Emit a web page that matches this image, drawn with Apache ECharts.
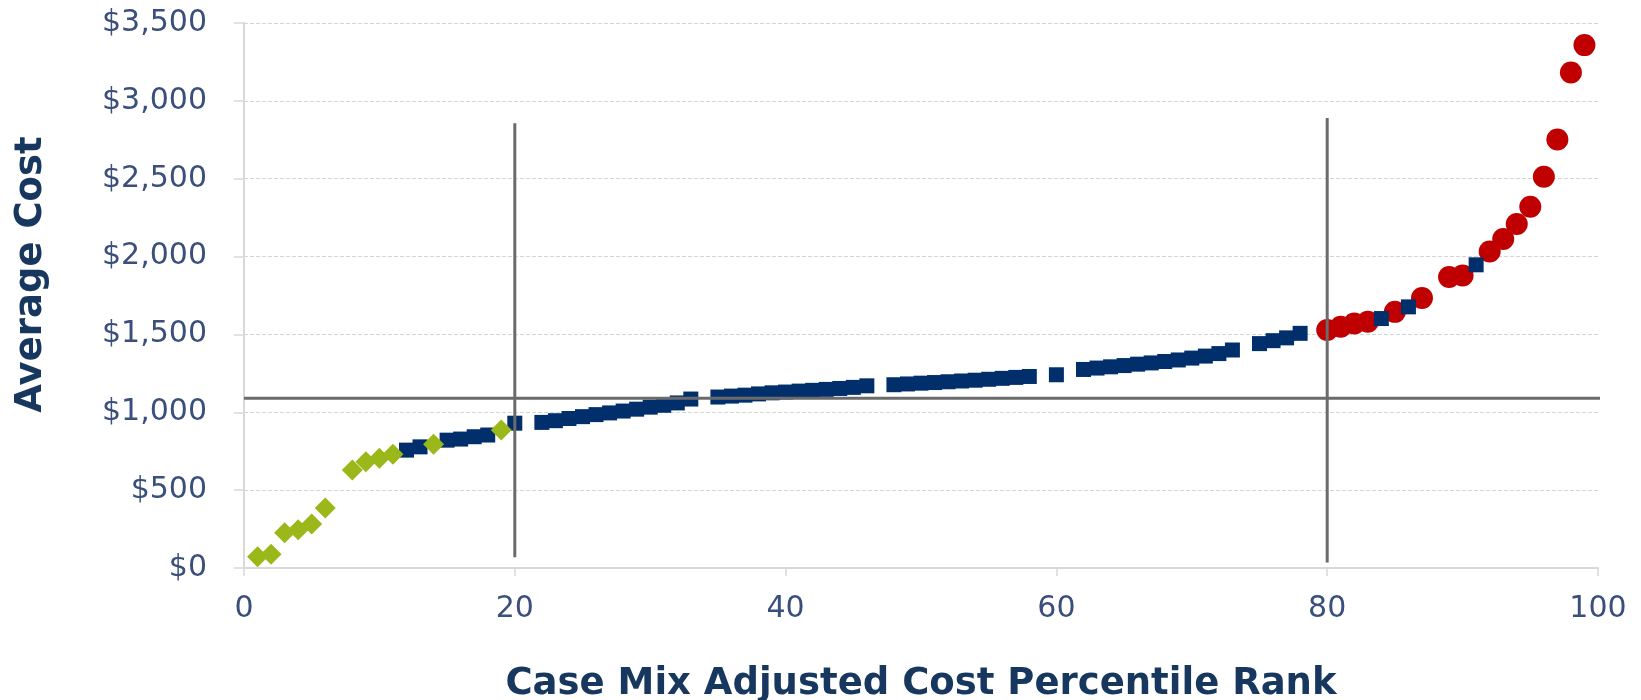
<!DOCTYPE html>
<html>
<head>
<meta charset="utf-8">
<script src="https://cdn.jsdelivr.net/npm/echarts@6/dist/echarts.min.js"></script>
<style>
  html, body { margin: 0; padding: 0; background: #ffffff; }
  #chart { width: 1641px; height: 700px; }
</style>
</head>
<body>
<div id="chart"></div>
<script>
// ---- Data ----
// Low-cost group (green diamonds)
const lowRank = [1, 2, 3, 4, 5, 6, 8, 9, 10, 11, 14, 19];
const lowCost = [73, 88, 227, 245, 283, 385, 630, 683, 705, 730, 794, 887];

// Middle group (navy squares)
const midRank = [12, 13, 15, 16, 17, 18, 20,
  22, 23, 24, 25, 26, 27, 28, 29, 30, 31, 32, 33,
  35, 36, 37, 38, 39, 40, 41, 42, 43, 44, 45, 46,
  48, 49, 50, 51, 52, 53, 54, 55, 56, 57, 58, 60,
  62, 63, 64, 65, 66, 67, 68, 69, 70, 71, 72, 73,
  75, 76, 77, 78, 84, 86, 91];
const midCost = [757, 778, 821, 828, 843, 854, 930,
  935, 946, 960, 972, 985, 996, 1008, 1020, 1033, 1045, 1060, 1085,
  1098, 1104, 1110, 1118, 1125, 1130, 1136, 1141, 1147, 1153, 1160, 1170,
  1177, 1182, 1187, 1191, 1196, 1201, 1206, 1212, 1218, 1224, 1230, 1241,
  1275, 1284, 1292, 1300, 1309, 1317, 1326, 1336, 1348, 1361, 1377, 1400,
  1441, 1460, 1478, 1507, 1602, 1677, 1947];

// High-cost group (red circles)
const highRank = [80, 81, 82, 83, 85, 87, 89, 90, 92, 93, 94, 95, 96, 97, 98, 99];
const highCost = [1528, 1549, 1570, 1581, 1645, 1734, 1869, 1879, 2033, 2113, 2209, 2320, 2513, 2752, 3182, 3358];

// Reference lines
const lowCutRank = 20;
const lowCutSpan = [69, 2856];
const highCutRank = 80;
const highCutSpan = [36, 2890];
const avgCostLevel = 1090;
const avgCostSpan = [0, 100.8];

// Axis ticks
const xTicks = [0, 20, 40, 60, 80, 100];
const yTicks = [0, 500, 1000, 1500, 2000, 2500, 3000, 3500];

const pairs = (xs, ys) => xs.map((x, i) => [x, ys[i]]);

const labelColor = '#3b4f7d';
const titleColor = '#17375e';
const refLineStyle = { color: '#6b6b6b', width: 3 };

const chart = echarts.init(document.getElementById('chart'));
chart.setOption({
  animation: false,
  backgroundColor: '#ffffff',
  textStyle: { fontFamily: 'DejaVu Sans' },
  grid: { left: 244, right: 43, top: 23, bottom: 132, containLabel: false, outerBoundsMode: 'none' },
  xAxis: {
    type: 'value',
    min: xTicks[0], max: xTicks[xTicks.length - 1], interval: 20,
    name: 'Case Mix Adjusted Cost Percentile Rank',
    nameLocation: 'middle',
    nameGap: 98,
    nameTextStyle: { fontFamily: 'DejaVu Sans', fontWeight: 'bold', fontSize: 37, color: titleColor },
    axisLine: { show: true, lineStyle: { color: '#d9d9d9', width: 2 } },
    axisTick: { show: true, inside: false, length: 8, lineStyle: { color: '#d9d9d9', width: 1.5 } },
    axisLabel: { fontSize: 30, color: labelColor, margin: 26, fontFamily: 'DejaVu Sans' },
    splitLine: { show: false }
  },
  yAxis: {
    type: 'value',
    min: yTicks[0], max: yTicks[yTicks.length - 1], interval: 500,
    name: 'Average Cost',
    nameLocation: 'middle',
    nameGap: 194,
    nameTextStyle: { fontFamily: 'DejaVu Sans', fontWeight: 'bold', fontSize: 37, color: titleColor, padding: [0, 0, 0, 42] },
    axisLine: { show: true, lineStyle: { color: '#d9d9d9', width: 2 } },
    axisTick: { show: true, inside: false, length: 10, lineStyle: { color: '#d9d9d9', width: 1.5 } },
    axisLabel: {
      fontSize: 30, color: labelColor, margin: 37, fontFamily: 'DejaVu Sans',
      formatter: v => '$' + v.toLocaleString('en-US')
    },
    splitLine: { show: true, lineStyle: { color: '#d4d4d4', width: 1, type: [4, 2] } }
  },
  series: [
    {
      name: 'High', type: 'scatter', data: pairs(highRank, highCost),
      symbol: 'circle', symbolSize: 22,
      itemStyle: { color: '#c00000', opacity: 1 }, z: 2
    },
    {
      name: 'Middle', type: 'scatter', data: pairs(midRank, midCost),
      symbol: 'rect', symbolSize: 15,
      itemStyle: { color: '#002f6c', opacity: 1 }, z: 3
    },
    {
      name: 'Low', type: 'scatter', data: pairs(lowRank, lowCost),
      symbol: 'diamond', symbolSize: [21, 21],
      itemStyle: { color: '#9ab81a', opacity: 1 }, z: 4
    },
    {
      name: 'Low cut', type: 'line', clip: false, symbol: 'none', silent: true,
      data: [[lowCutRank, lowCutSpan[0]], [lowCutRank, lowCutSpan[1]]],
      lineStyle: refLineStyle, z: 5
    },
    {
      name: 'High cut', type: 'line', clip: false, symbol: 'none', silent: true,
      data: [[highCutRank, highCutSpan[0]], [highCutRank, highCutSpan[1]]],
      lineStyle: refLineStyle, z: 5
    },
    {
      name: 'Average', type: 'line', clip: false, symbol: 'none', silent: true,
      data: [[avgCostSpan[0], avgCostLevel], [avgCostSpan[1], avgCostLevel]],
      lineStyle: refLineStyle, z: 5
    }
  ]
});
</script>
</body>
</html>
